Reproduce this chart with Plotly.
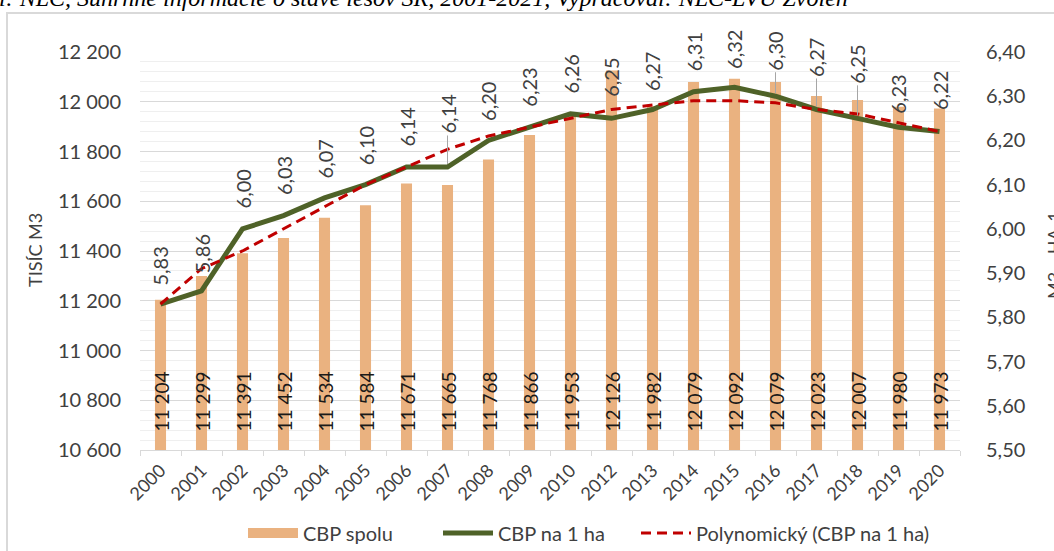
import plotly.graph_objects as go

# ---- data ----
years = ["2000", "2001", "2002", "2003", "2004", "2005", "2006", "2007", "2008", "2009",
         "2010", "2012", "2013", "2014", "2015", "2016", "2017", "2018", "2019", "2020"]
cbp_spolu = [11204, 11299, 11391, 11452, 11534, 11584, 11671, 11665, 11768, 11866,
             11953, 12126, 11982, 12079, 12092, 12079, 12023, 12007, 11980, 11973]
cbp_na_ha = [5.83, 5.86, 6.00, 6.03, 6.07, 6.10, 6.14, 6.14, 6.20, 6.23,
             6.26, 6.25, 6.27, 6.31, 6.32, 6.30, 6.27, 6.25, 6.23, 6.22]
trend_ha = [5.83, 5.91, 5.95, 6.00, 6.05, 6.10, 6.14, 6.18, 6.21, 6.23,
            6.25, 6.27, 6.28, 6.29, 6.29, 6.285, 6.27, 6.26, 6.24, 6.22]

left_ticks = [10600, 10800, 11000, 11200, 11400, 11600, 11800, 12000, 12200]
right_ticks = [5.5, 5.6, 5.7, 5.8, 5.9, 6.0, 6.1, 6.2, 6.3, 6.4]

# ---- styling ----
FONT = "Lato"
TXT = "#404040"
BAR_COLOR = "#EAB280"
LINE_COLOR = "#4F6228"
TREND_COLOR = "#C00000"

# label gaps (px) between point and label, and which labels have leader lines
label_gap = [17, 16, 19, 19, 18, 18, 19, 32, 18, 19, 19, 20, 17, 19, 17, 24, 31, 33, 12, 20]
leader = [False] * 20
for i in (7, 15, 16, 17):
    leader[i] = True

W, H = 1054, 551
L, R, T, B = 140, 94, 52, 101
pw, ph = W - L - R, H - T - B


def px_x(p):
    return (p - L) / pw


def px_y(p):
    return (H - B - p) / ph


fig = go.Figure()

fig.add_trace(go.Bar(
    x=years, y=cbp_spolu, name="CBP spolu", showlegend=False,
    marker=dict(color=BAR_COLOR, line=dict(width=0)),
    yaxis="y", hoverinfo="x+y",
))
# legend-only entry giving the bar series a wide swatch
fig.add_trace(go.Scatter(
    x=[None], y=[None], name="CBP spolu", mode="lines", legend="legend",
    line=dict(color=BAR_COLOR, width=12), yaxis="y", hoverinfo="skip",
))
fig.add_trace(go.Scatter(
    x=years, y=cbp_na_ha, name="CBP na 1 ha", mode="lines", legend="legend2",
    line=dict(color=LINE_COLOR, width=5), yaxis="y2",
))
fig.add_trace(go.Scatter(
    x=years, y=trend_ha, name="Polynomický (CBP na 1 ha)", mode="lines", legend="legend3",
    line=dict(color=TREND_COLOR, width=3, dash="10px,6px"), yaxis="y2",
))

ann = []
# bar value labels (inside base, rotated); category axis -> use category index
for i, v in enumerate(cbp_spolu):
    ann.append(dict(
        x=i, y=left_ticks[0], xref="x", yref="y",
        text=f"{v:,}".replace(",", " "), textangle=-90,
        showarrow=False, yanchor="bottom", xanchor="center", yshift=16,
        font=dict(family=FONT, size=19, color="#1A1A1A"),
    ))
# line value labels (rotated, above points)
for i, v in enumerate(cbp_na_ha):
    ann.append(dict(
        x=i, y=v, xref="x", yref="y2",
        text=f"{v:.2f}".replace(".", ","), textangle=-90,
        showarrow=True, arrowhead=0, arrowwidth=1, ax=0, ay=-(label_gap[i] + 21),
        standoff=3,
        arrowcolor="#A6A6A6" if leader[i] else "rgba(0,0,0,0)",
        font=dict(family=FONT, size=20, color=TXT),
    ))
# axis titles
ann.append(dict(
    x=px_x(35), y=px_y(250), xref="paper", yref="paper", text="TISÍC M3",
    textangle=-90, showarrow=False, xanchor="center", yanchor="middle",
    font=dict(family=FONT, size=18, color=TXT),
))
ann.append(dict(
    x=px_x(1041), y=px_y(255), xref="paper", yref="paper", text="M3 _ HA-1",
    textangle=-90, showarrow=False, xanchor="left", yanchor="middle",
    font=dict(family=FONT, size=18, color=TXT),
))
# source caption, clipped at the top
ann.append(dict(
    x=px_x(-3), y=px_y(13), xref="paper", yref="paper",
    text="<i>l: NLC, Súhrnné informácie o stave lesov SR, 2001-2021, Vypracoval: NLC-LVÚ Zvolen</i>",
    showarrow=False, xanchor="left", yanchor="bottom",
    font=dict(family="Liberation Serif", size=24, color="#000000"),
))


def legend_at(px_left):
    return dict(
        orientation="h", x=px_x(px_left), xanchor="left", y=px_y(533), yanchor="middle",
        font=dict(family=FONT, size=20, color=TXT), itemwidth=50,
        bgcolor="rgba(0,0,0,0)",
    )


fig.update_layout(
    width=W, height=H,
    margin=dict(l=L, r=R, t=T, b=B, pad=0, autoexpand=False),
    paper_bgcolor="white", plot_bgcolor="white",
    separators=", ",
    bargap=0.73,
    showlegend=True,
    legend=legend_at(243),
    legend2=legend_at(438),
    legend3=legend_at(636),
    xaxis=dict(
        type="category", range=[-0.5, len(years) - 0.5], tickangle=-45,
        tickfont=dict(family=FONT, size=18, color=TXT), automargin=False,
        showline=True, linecolor="#D9D9D9", linewidth=1,
        ticks="outside", tickson="boundaries", ticklen=5, tickcolor="#D9D9D9",
        showgrid=False, ticklabelstandoff=2,
    ),
    yaxis=dict(
        range=[10600, 12200], tickvals=left_ticks, tickformat=",d", automargin=False,
        tickfont=dict(family=FONT, size=20, color=TXT),
        showgrid=True, gridcolor="#D9D9D9", gridwidth=1,
        minor=dict(dtick=40, tick0=10600, showgrid=True, gridcolor="#EFEFEF", gridwidth=1),
        zeroline=False, showline=False, ticks="", ticklabelstandoff=18,
    ),
    yaxis2=dict(
        range=[5.5, 6.4], tickvals=right_ticks, tickformat=".2f", automargin=False,
        overlaying="y", side="right",
        tickfont=dict(family=FONT, size=20, color=TXT),
        showgrid=False, zeroline=False, showline=False, ticks="", ticklabelstandoff=25,
    ),
    annotations=ann,
    shapes=[dict(
        type="rect", xref="paper", yref="paper",
        x0=px_x(7), x1=1.3, y0=-0.4, y1=px_y(13),
        line=dict(color="#D9D9D9", width=2), fillcolor="rgba(0,0,0,0)", layer="below",
    )],
)

fig.write_html(
    "out.html",
    config={"displayModeBar": False},
    post_script="document.body.style.margin='0';document.body.style.overflow='hidden';",
)
